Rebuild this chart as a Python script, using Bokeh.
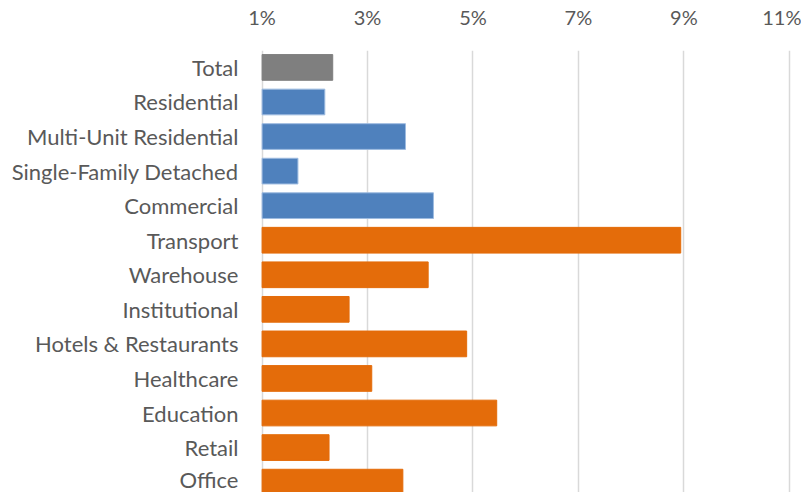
from bokeh.plotting import figure
from bokeh.models import Range1d, FixedTicker, ColumnDataSource
from bokeh.embed import file_html
from bokeh.resources import INLINE

categories = ["Total", "Residential", "Multi-Unit Residential", "Single-Family Detached",
              "Commercial", "Transport", "Warehouse", "Institutional",
              "Hotels & Restaurants", "Healthcare", "Education", "Retail", "Office"]
values = [2.34, 2.19, 3.72, 1.68, 4.25, 8.94, 4.15, 2.65, 4.88, 3.08, 5.45, 2.27, 3.67]
groups = ["total", "res", "res", "res", "res", "com", "com", "com", "com", "com", "com", "com", "com"]
x_ticks = [1, 3, 5, 7, 9, 11]

colors_by_group = {"total": "#7f7f7f", "res": "#4f81bd", "com": "#e46c0a"}
lines_by_group = {"total": "#7f7f7f", "res": "#9dbbe0", "com": "#e46c0a"}

src = ColumnDataSource(dict(
    y=list(range(len(categories))),
    right=values,
    left=[1] * len(values),
    fill=[colors_by_group[g] for g in groups],
    line=[lines_by_group[g] for g in groups],
))

p = figure(width=801, height=492, output_backend="svg", toolbar_location=None,
           x_range=Range1d(0.97, 11.06), y_range=Range1d(12.30, -0.49),
           x_axis_location="above",
           min_border_left=260, min_border_right=9, min_border_top=50, min_border_bottom=0)

p.hbar(y="y", left="left", right="right", height=0.744, source=src,
       fill_color="fill", line_color="line", line_width=1)

p.outline_line_color = None
p.background_fill_color = "white"
p.border_fill_color = "white"

xa = p.xaxis[0]
xa.ticker = FixedTicker(ticks=x_ticks)
xa.major_label_overrides = {t: f"{t}%" for t in x_ticks}
xa.axis_line_color = None
xa.major_tick_line_color = None
xa.minor_tick_line_color = None
xa.major_label_text_font = "Lato"
xa.major_label_text_font_size = "20px"
xa.major_label_text_color = "#595959"
xa.major_label_standoff = 16

ya = p.yaxis[0]
ya.ticker = FixedTicker(ticks=list(range(len(categories))))
ya.major_label_overrides = {i: c for i, c in enumerate(categories)}
ya.axis_line_color = None
ya.major_tick_line_color = None
ya.minor_tick_line_color = None
ya.major_label_text_font = "Lato"
ya.major_label_text_font_size = "22px"
ya.major_label_text_color = "#595959"
ya.major_label_standoff = 16

p.xgrid.grid_line_color = "#d9d9d9"
p.xgrid.grid_line_width = 1.5
p.ygrid.grid_line_color = None
p.xgrid.level = "underlay"

open("out.html", "w").write(file_html(p, INLINE))
